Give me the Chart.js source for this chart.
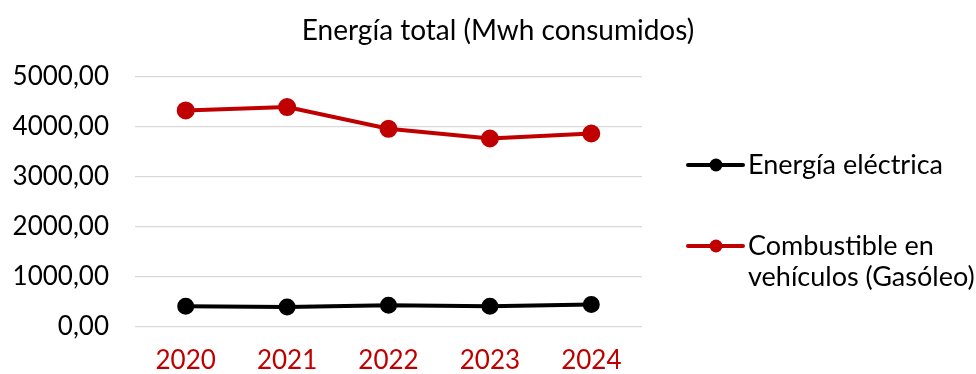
<!DOCTYPE html>
<html>
<head>
<meta charset="utf-8">
<script src="https://cdn.jsdelivr.net/npm/chart.js@4/dist/chart.umd.min.js"></script>
<style>
  html, body { margin: 0; padding: 0; background: #fff; }
  #wrap { width: 976px; height: 374px; }
</style>
</head>
<body>
<div id="wrap"><canvas id="energyChart" width="976" height="374"></canvas></div>
<script>
const years = ['2020', '2021', '2022', '2023', '2024'];
const electricity = [415, 401, 435, 415, 449];
const diesel = [4331, 4399, 3964, 3770, 3870];
const electricityLabel = ['Energía eléctrica'];
const dieselLabel = ['Combustible en', 'vehículos (Gasóleo)'];
const chartTitle = 'Energía total (Mwh consumidos)';

const FONT = 'Lato, "Open Sans", sans-serif';

// title and legend drawn by hand: the title sits centred over the whole
// figure and the diesel label wraps onto two lines
const sideDecor = {
    id: 'sideDecor',
    afterDraw(chart) {
        const ctx = chart.ctx;
        const area = chart.chartArea;
        ctx.save();
        ctx.fillStyle = '#000';
        ctx.textBaseline = 'middle';
        ctx.textAlign = 'center';
        ctx.font = '28px ' + FONT;
        ctx.fillText(chartTitle, 498, 31);

        const x0 = area.right + 46;
        const rows = [165, 246];
        ctx.font = '27px ' + FONT;
        ctx.textAlign = 'left';
        chart.data.datasets.forEach(function (ds, i) {
            const y = rows[i];
            ctx.strokeStyle = ds.borderColor;
            ctx.lineWidth = 4;
            ctx.lineCap = 'round';
            ctx.beginPath();
            ctx.moveTo(x0, y);
            ctx.lineTo(x0 + 55, y);
            ctx.stroke();
            ctx.fillStyle = ds.borderColor;
            ctx.beginPath();
            ctx.arc(x0 + 28, y, 6.5, 0, Math.PI * 2);
            ctx.fill();
            ctx.fillStyle = '#000';
            ds.label.forEach(function (line, j) {
                ctx.fillText(line, x0 + 60, y + j * 31);
            });
        });
        ctx.restore();
    }
};

const ctx = document.getElementById('energyChart').getContext('2d');
new Chart(ctx, {
    type: 'line',
    data: {
        labels: years,
        datasets: [{
            label: electricityLabel,
            data: electricity,
            borderColor: '#000000',
            backgroundColor: '#000000',
            borderWidth: 4,
            pointRadius: 6.5,
            pointHoverRadius: 6.5,
            tension: 0
        }, {
            label: dieselLabel,
            data: diesel,
            borderColor: '#C00000',
            backgroundColor: '#C00000',
            borderWidth: 4,
            pointRadius: 7,
            pointHoverRadius: 7,
            tension: 0
        }]
    },
    options: {
        responsive: false,
        animation: false,
        layout: {
            padding: { left: 12, right: 334, top: 77, bottom: 0 }
        },
        scales: {
            x: {
                offset: true,
                grid: { display: false, drawTicks: false },
                border: { display: false },
                afterFit: function (scale) { scale.height = 47; },
                ticks: {
                    color: '#C00000',
                    font: { family: FONT, size: 26, lineHeight: 1 },
                    padding: 21
                }
            },
            y: {
                min: 0,
                max: 5000,
                border: { display: false },
                grid: { color: '#d9d9d9', lineWidth: 1.3, drawTicks: false },
                afterFit: function (scale) { scale.width = 123; },
                ticks: {
                    stepSize: 1000,
                    color: '#000',
                    padding: 26,
                    font: { family: FONT, size: 26 },
                    callback: function (v) { return v.toFixed(2).replace('.', ','); }
                }
            }
        },
        plugins: {
            legend: { display: false },
            tooltip: { enabled: false },
            title: { display: false }
        }
    },
    plugins: [sideDecor]
});
</script>
</body>
</html>
